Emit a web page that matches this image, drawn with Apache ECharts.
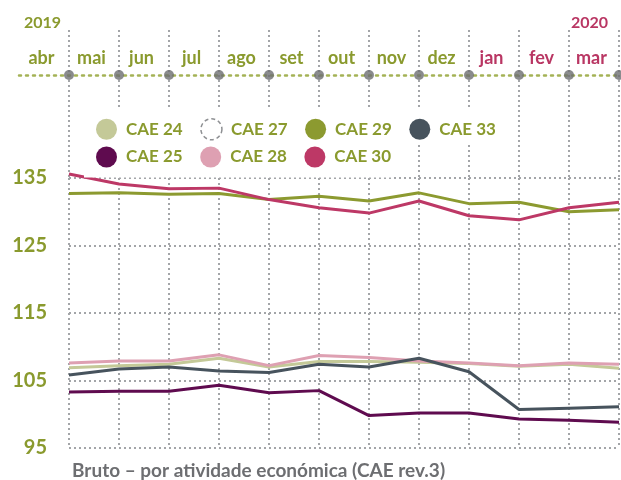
<!DOCTYPE html>
<html>
<head>
<meta charset="utf-8">
<script src="https://cdn.jsdelivr.net/npm/echarts@6/dist/echarts.min.js"></script>
<style>
  html, body { margin: 0; padding: 0; background: #fff; }
  #chart { width: 621px; height: 480px; }
</style>
</head>
<body>
<div id="chart"></div>
<script>
// meses (abr 2019 - mar 2020)
var months = ['abr', 'mai', 'jun', 'jul', 'ago', 'set', 'out', 'nov', 'dez', 'jan', 'fev', 'mar'];
var yTicks = [95, 105, 115, 125, 135];

// indices por CAE
var cae24 = [106.9, 107.2, 107.4, 108.3, 107.0, 107.8, 107.8, 107.7, 107.5, 107.1, 107.4, 106.8];
var cae25 = [103.3, 103.4, 103.4, 104.3, 103.2, 103.5, 99.8, 100.2, 100.2, 99.3, 99.1, 98.8];
var cae27 = [];
var cae28 = [107.6, 107.9, 107.9, 108.8, 107.2, 108.7, 108.4, 107.9, 107.6, 107.2, 107.6, 107.4];
var cae29 = [132.7, 132.8, 132.6, 132.7, 131.8, 132.3, 131.6, 132.8, 131.2, 131.4, 130.0, 130.3];
var cae30 = [135.6, 134.1, 133.4, 133.5, 131.8, 130.6, 129.8, 131.6, 129.4, 128.8, 130.6, 131.4];
var cae33 = [105.8, 106.7, 107.0, 106.4, 106.2, 107.4, 107.0, 108.3, 106.3, 100.7, 100.9, 101.1];

var olive = '#8a9a2e';
var crimson = '#b93663';
var gridGray = '#a3a5a8';
var dotted = { color: gridGray, width: 2, type: [2, 3] };

var topCats = [''].concat(months);
var dotData = topCats.map(function (m, i) { return i === 0 ? '-' : 0; });

function line(name, data, color) {
    return {
        name: name, type: 'line', data: data,
        xAxisIndex: 2, yAxisIndex: 2, clip: false,
        color: color, symbol: 'none', smooth: false,
        lineStyle: { width: 3, color: color }
    };
}

var legendBase = {
    left: 84, backgroundColor: '#fff',
    icon: 'circle', itemWidth: 21, itemHeight: 21, itemGap: 17.5,
    textStyle: { color: olive, fontSize: 17, fontWeight: 'bold', fontFamily: 'Lato', padding: [0, 0, 0, 4] }
};

var option = {
    animation: false,
    textStyle: { fontFamily: 'Lato' },
    grid: [
        { left: 19, right: 2, top: 30, height: 45 },
        { left: 69, right: 2, top: 75, height: 103 },
        { left: 69, right: 2, top: 178, bottom: 32 }
    ],
    xAxis: [
        {
            gridIndex: 0, type: 'category', data: topCats, boundaryGap: false,
            position: 'bottom',
            axisLine: { lineStyle: { color: '#a4b255', width: 2.5, type: [2, 5], cap: 'round' } },
            axisTick: { show: false },
            axisLabel: {
                inside: true, interval: 0, margin: 8,
                fontSize: 18, fontWeight: 'bold', fontFamily: 'Lato',
                align: 'center', padding: [0, 55, 0, 0],
                color: function (v, i) { return ['jan', 'fev', 'mar'].indexOf(v) >= 0 ? crimson : olive; }
            },
            splitLine: { show: true, interval: function (i) { return i > 0; }, lineStyle: dotted }
        },
        {
            gridIndex: 1, type: 'category', data: months, boundaryGap: false,
            axisLine: { show: false }, axisTick: { show: false }, axisLabel: { show: false },
            splitLine: { show: true, interval: 0, lineStyle: dotted }
        },
        {
            gridIndex: 2, type: 'category', data: months, boundaryGap: false,
            axisLine: { show: false }, axisTick: { show: false }, axisLabel: { show: false },
            splitLine: { show: true, interval: 0, lineStyle: dotted }
        }
    ],
    yAxis: [
        { gridIndex: 0, type: 'value', min: 0, max: 1, show: false },
        { gridIndex: 1, type: 'value', min: 0, max: 1, show: false },
        {
            gridIndex: 2, type: 'value', min: yTicks[0], max: yTicks[yTicks.length - 1], interval: 10,
            axisLine: { show: false }, axisTick: { show: false },
            axisLabel: { color: olive, fontSize: 20, fontWeight: 'bold', fontFamily: 'Lato', margin: 22 },
            splitLine: { show: true, lineStyle: dotted }
        }
    ],
    legend: [
        Object.assign({}, legendBase, {
            top: 107, padding: [11, 0, 4, 12],
            data: [
                'CAE 24',
                { name: 'CAE 27', itemStyle: { color: '#fff', borderColor: '#8e9093', borderWidth: 1.5, borderType: [4, 3] } },
                'CAE 29', 'CAE 33'
            ]
        }),
        Object.assign({}, legendBase, {
            top: 143, padding: [3.5, 0, 10, 12],
            data: ['CAE 25', 'CAE 28', 'CAE 30']
        })
    ],
    graphic: [
        { type: 'text', left: 24, top: 15, style: { text: '2019', fill: olive, font: 'bold 16px Lato' } },
        { type: 'text', left: 571, top: 15, style: { text: '2020', fill: crimson, font: 'bold 16px Lato' } },
        { type: 'text', left: 72, top: 461, style: { text: 'Bruto – por atividade económica (CAE rev.3)', fill: '#6d6e71', font: 'bold 19px Lato' } }
    ],
    series: [
        {
            type: 'scatter', xAxisIndex: 0, yAxisIndex: 0, data: dotData,
            symbol: 'circle', symbolSize: 10, itemStyle: { color: '#6d6e71' }, silent: true, z: 5
        },
        line('CAE 24', cae24, '#c4c998'),
        line('CAE 25', cae25, '#5f0b4f'),
        line('CAE 27', cae27, '#8e9093'),
        line('CAE 28', cae28, '#dea0b2'),
        line('CAE 29', cae29, '#8c9a30'),
        line('CAE 30', cae30, '#bd3866'),
        line('CAE 33', cae33, '#47535d')
    ]
};

var myChart = echarts.init(document.getElementById('chart'));
myChart.setOption(option, true);
</script>
</body>
</html>
